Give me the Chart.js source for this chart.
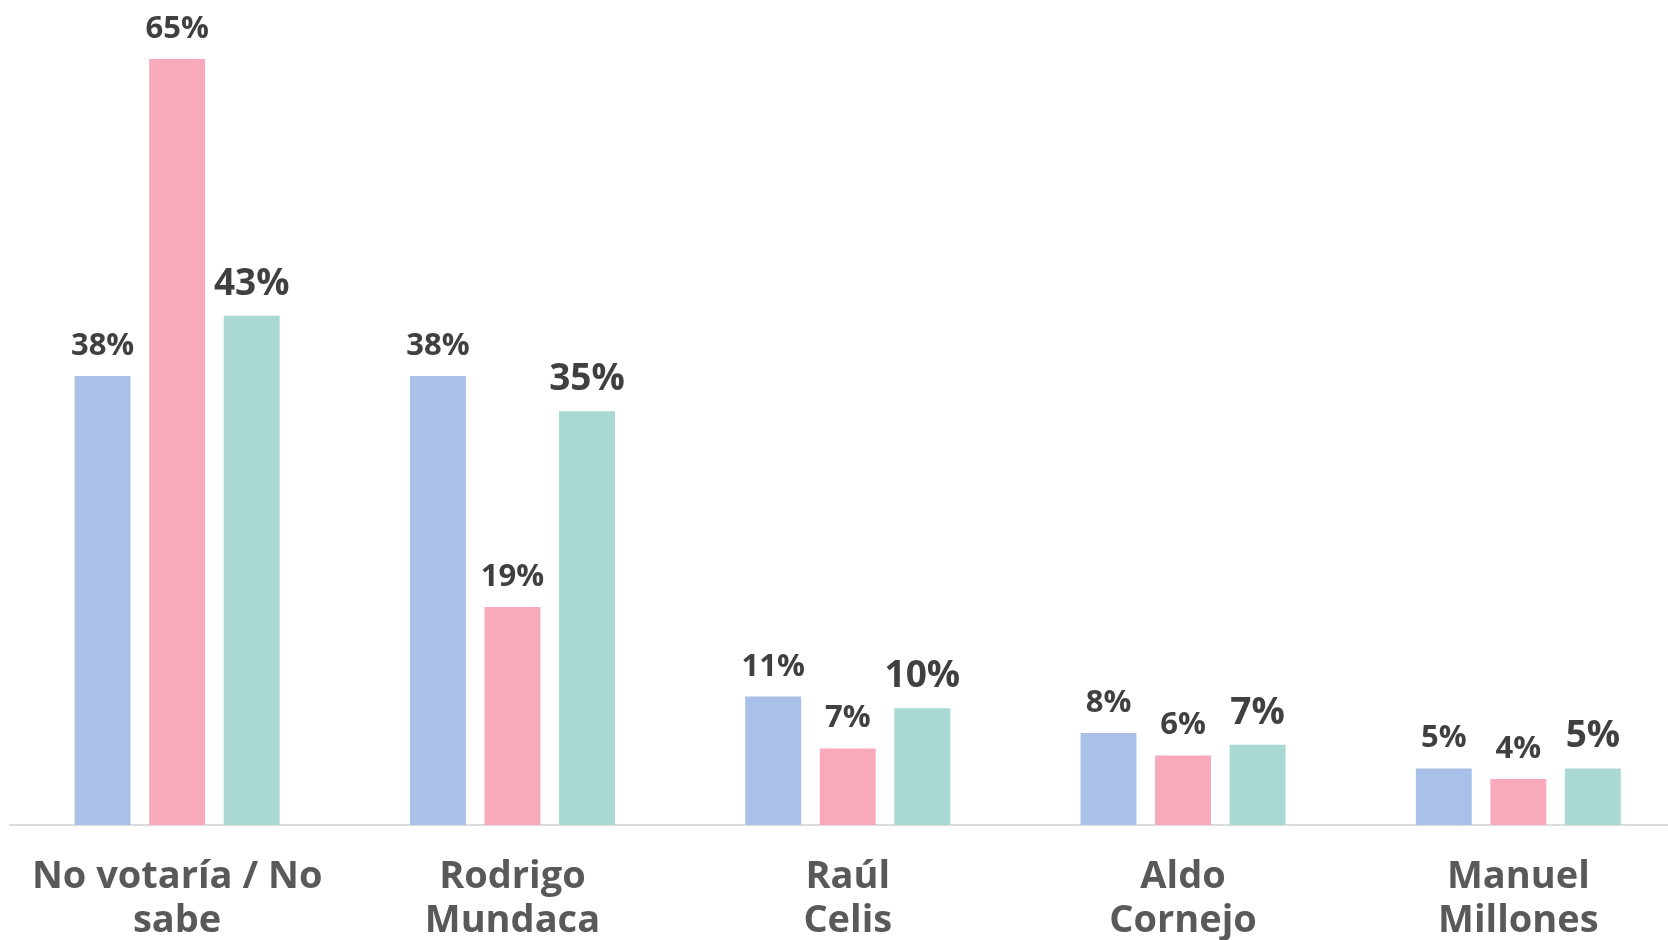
<!DOCTYPE html>
<html>
<head>
<meta charset="utf-8">
<script src="https://cdn.jsdelivr.net/npm/chart.js@4.4.1/dist/chart.umd.min.js"></script>
<style>
  html, body { margin: 0; padding: 0; background: #ffffff; overflow: hidden; }
  #wrap { position: absolute; left: 0; top: 0; width: 1686px; height: 940px; }
</style>
</head>
<body>
<div id="wrap"><canvas id="c"></canvas></div>
<script>
const categories = [
  ["No votaría / No", "sabe"],
  ["Rodrigo", "Mundaca"],
  ["Raúl", "Celis"],
  ["Aldo", "Cornejo"],
  ["Manuel", "Millones"]
];
const series1 = [38.1, 38.1, 10.9, 7.8, 4.8];
const series2 = [65.0, 18.5, 6.5, 5.9, 3.9];
const series3 = [43.2, 35.1, 9.9, 6.8, 4.8];
const seriesNames = ["Serie 1", "Serie 2", "Serie 3"];
const seriesColors = ["#a9c1e8", "#f8a9bb", "#a9d9d2"];
const labelSizes = [31, 31, 37];

const valueLabels = {
  id: 'valueLabels',
  afterDatasetsDraw(chart) {
    const ctx = chart.ctx;
    ctx.save();
    chart.data.datasets.forEach((ds, i) => {
      const meta = chart.getDatasetMeta(i);
      ctx.font = `700 ${labelSizes[i]}px "Open Sans"`;
      ctx.fillStyle = '#404040';
      ctx.textAlign = 'center';
      ctx.textBaseline = 'alphabetic';
      meta.data.forEach((bar, j) => {
        ctx.fillText(Math.round(ds.data[j]) + '%', bar.x, bar.y - 21);
      });
    });
    ctx.restore();
  }
};

new Chart(document.getElementById('c'), {
  type: 'bar',
  data: {
    labels: categories,
    datasets: [series1, series2, series3].map((d, i) => ({
      label: seriesNames[i],
      data: d,
      backgroundColor: seriesColors[i],
      borderWidth: 0,
      categoryPercentage: 0.667,
      barPercentage: 0.75
    }))
  },
  options: {
    responsive: true,
    maintainAspectRatio: false,
    animation: false,
    layout: { padding: { left: 9.5, right: 0, top: 0, bottom: 0 } },
    plugins: { legend: { display: false }, tooltip: { enabled: false } },
    scales: {
      x: {
        grid: { display: false, drawTicks: false },
        border: { display: true, color: '#dcdcdc', width: 2 },
        ticks: {
          color: '#595959',
          padding: 30,
          maxRotation: 0,
          autoSkip: false,
          font: { family: '"Open Sans"', size: 38, weight: '700', lineHeight: 1.16 }
        },
        afterFit(scale) { scale.height = 115; }
      },
      y: {
        display: false,
        min: 0,
        max: 70
      }
    }
  },
  plugins: [valueLabels]
});
</script>
</body>
</html>
